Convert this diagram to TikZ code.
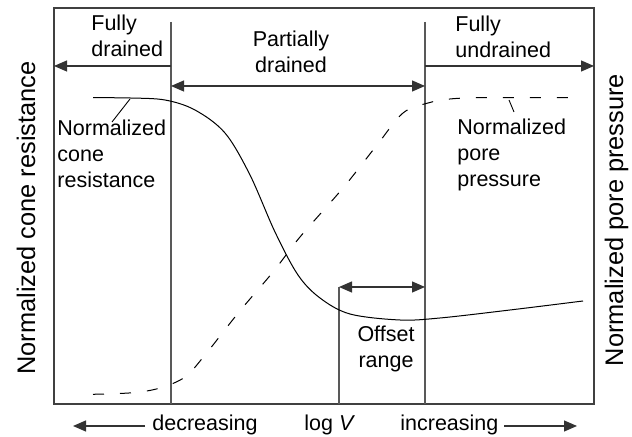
\documentclass[tikz,border=0pt]{standalone}
\usepackage{fontspec}
\setmainfont{Liberation Sans}
\usetikzlibrary{arrows.meta}
\begin{document}
\begin{tikzpicture}[x=0.5pt,y=-0.5pt,
  frame/.style={draw=black!75,line width=0.6pt},
  divider/.style={draw=black!65,line width=0.6pt},
  curve/.style={draw=black,line width=0.5pt},
  dcurve/.style={curve,dash pattern=on 5.5pt off 8pt},
  onetip/.style={draw=black!80,line width=0.6pt,-{Triangle[length=6.5pt,width=5.5pt]}},
  twotip/.style={draw=black!80,line width=0.6pt,{Triangle[length=6.5pt,width=5.5pt]}-{Triangle[length=6.5pt,width=5.5pt]}},
  leader/.style={draw=black,line width=0.45pt},
  lbl/.style={font=\fontsize{10.75}{13}\selectfont,inner sep=0pt,align=left},
  clbl/.style={font=\fontsize{10.75}{13}\selectfont,inner sep=0pt,align=center},
  axlbl/.style={font=\fontsize{12.7}{15}\selectfont,inner sep=0pt,rotate=90,anchor=base},
]
\useasboundingbox (0,0) rectangle (632,437);
% frame
\coordinate (boxTL) at (54,8);
\coordinate (boxBR) at (594,404);
\draw[frame] (boxTL) rectangle (boxBR);
% dividers
\coordinate (v1t) at (171,22); \coordinate (v1b) at (171,404);
\coordinate (v2t) at (425,22); \coordinate (v2b) at (425,404);
\coordinate (v3t) at (339,287); \coordinate (v3b) at (339,404);
\draw[divider] (v1t) -- (v1b);
\draw[divider] (v2t) -- (v2b);
\draw[divider] (v3t) -- (v3b);
% zone arrows
\coordinate (fdL) at (54,66); \coordinate (fdR) at (171,66);
\coordinate (pdL) at (171,86); \coordinate (pdR) at (425,86);
\coordinate (fuL) at (425,66); \coordinate (fuR) at (594,66);
\coordinate (orL) at (339,287); \coordinate (orR) at (425,287);
\draw[onetip] (fdR) -- (fdL);
\draw[twotip] (pdL) -- (pdR);
\draw[onetip] (fuL) -- (fuR);
\draw[twotip] (orL) -- (orR);
% zone labels (base anchor = last line)
\node[lbl,anchor=base west] (fd) at (91,57) {Fully\\drained};
\node[clbl,anchor=base] (pd) at (291,72.7) {Partially\\drained};
\node[lbl,anchor=base west] (fu) at (455,58) {Fully\\undrained};
\node[clbl,anchor=base] (or) at (386,368) {Offset\\range};
% curves
\draw[curve] plot[smooth,tension=0.55] coordinates {(93,97.7) (130,98) (165,100) (195,110) (225,133) (250,175) (275,232) (298,275) (320,298) (350,314) (400,320) (440,318) (510,310) (583,301)};
\draw[dcurve] plot[smooth,tension=0.55] coordinates {(93,394.3) (133,392.7) (160,388) (185,377) (205,355) (239,312) (273,272) (300,237) (343,188) (377,145) (403,113) (428,103) (450,99) (477,97.7) (520,97.7) (580,97.7)};
% curve annotations
\coordinate (cq1) at (130,99); \coordinate (cq2) at (112,122);
\draw[leader] (cq1) -- (cq2);
\node[lbl,anchor=base west] (cq) at (57,188) {Normalized\\cone\\resistance};
\coordinate (cu1) at (509,100); \coordinate (cu2) at (514,112);
\draw[leader] (cu1) -- (cu2);
\node[lbl,anchor=base west] (cu) at (457,187) {Normalized\\pore\\pressure};
% axis labels
\node[axlbl] (yl) at (35,218) {Normalized cone resistance};
\node[axlbl] (yr) at (623,220) {Normalized pore pressure};
% bottom axis
\node[lbl,anchor=base west] (dec) at (152,431) {decreasing};
\node[lbl,anchor=base west] (logv) at (304,431) {log \textit{V}};
\node[lbl,anchor=base west] (inc) at (400,431) {increasing};
\coordinate (decA) at (145,426); \coordinate (decB) at (73,426);
\coordinate (incA) at (504,426); \coordinate (incB) at (577,426);
\draw[onetip] (decA) -- (decB);
\draw[onetip] (incA) -- (incB);
\end{tikzpicture}
\end{document}
